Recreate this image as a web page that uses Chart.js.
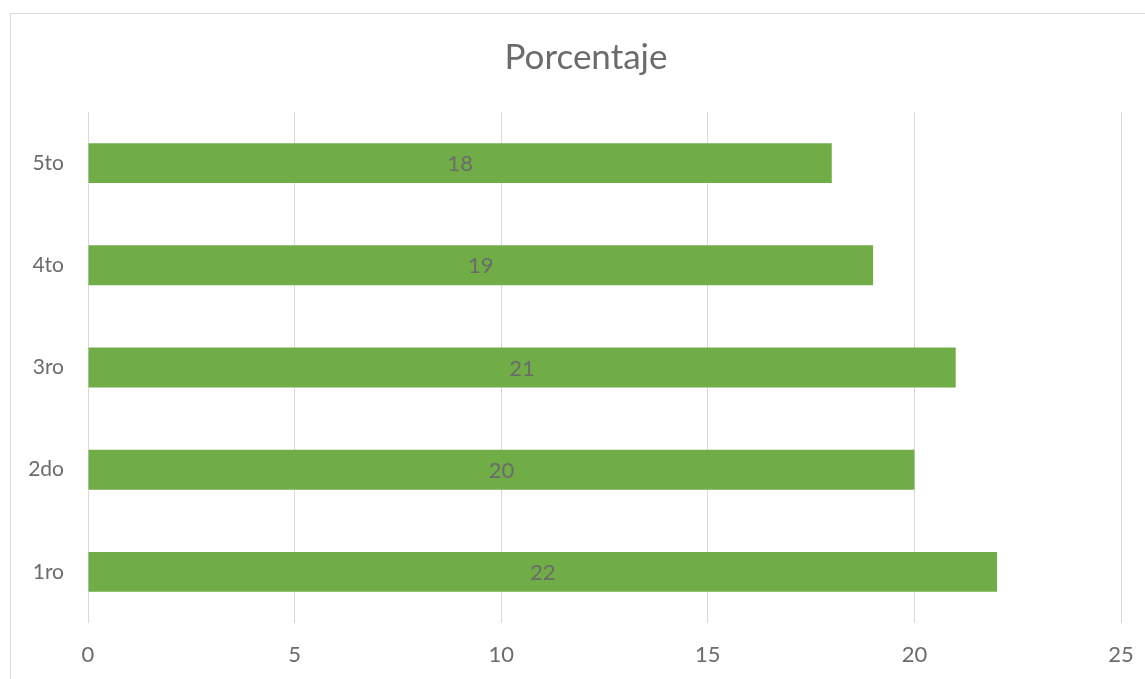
<!DOCTYPE html>
<html>
<head>
<meta charset="utf-8">
<script src="https://cdn.jsdelivr.net/npm/chart.js@4"></script>
<style>
    html, body { margin: 0; padding: 0; background: #fff; overflow: hidden; }
    #frame { position: absolute; left: 10px; top: 13px; width: 1200px; height: 700px; border: 1px solid #d9d9d9; }
    #wrap { position: absolute; left: 0; top: 0; width: 1145px; height: 679px; }
</style>
</head>
<body>
<div id="frame"></div>
<div id="wrap"><canvas id="chart" width="1145" height="679"></canvas></div>
<script>
const chartTitle = 'Porcentaje';
const categories = ['5to', '4to', '3ro', '2do', '1ro'];
const values = [18, 19, 21, 20, 22];
const xTicks = [0, 5, 10, 15, 20, 25];

const textColor = '#6b6b6b';
const fontFamily = 'Lato, "Open Sans", sans-serif';

// title centred on the chart frame (not the plot), plus labels in the middle of each bar
const overlay = {
    id: 'overlay',
    afterDatasetsDraw(chart) {
        const ctx = chart.ctx;
        const meta = chart.getDatasetMeta(0);
        ctx.save();
        ctx.fillStyle = textColor;
        ctx.textAlign = 'center';
        ctx.textBaseline = 'middle';
        ctx.font = '35px ' + fontFamily;
        ctx.fillText(chartTitle, 586, 58);
        ctx.font = '22px ' + fontFamily;
        meta.data.forEach((bar, i) => {
            const mid = (bar.x + bar.base) / 2;
            ctx.fillText(String(values[i]), mid, bar.y + 1);
        });
        ctx.restore();
    }
};

new Chart(document.getElementById('chart'), {
    type: 'bar',
    data: {
        labels: categories,
        datasets: [{
            label: chartTitle,
            data: values,
            backgroundColor: '#70ad47',
            borderWidth: 0,
            categoryPercentage: 1,
            barPercentage: 0.39
        }]
    },
    options: {
        indexAxis: 'y',
        responsive: false,
        animation: false,
        layout: { padding: { left: 0, right: 24, top: 112, bottom: 0 } },
        plugins: {
            legend: { display: false },
            tooltip: { enabled: false },
            title: { display: false }
        },
        scales: {
            x: {
                min: 0,
                max: 25,
                afterBuildTicks(scale) {
                    scale.ticks = xTicks.map(v => ({ value: v }));
                },
                afterFit(scale) {
                    scale.height = 56;
                    scale.paddingRight = 0;
                },
                grid: { color: '#d9d9d9', drawTicks: false },
                border: { display: false },
                ticks: {
                    color: textColor,
                    padding: 19,
                    maxRotation: 0,
                    font: { family: fontFamily, size: 22 }
                }
            },
            y: {
                afterFit(scale) { scale.width = 88; },
                grid: { display: false, drawTicks: false },
                border: { display: false },
                ticks: {
                    color: textColor,
                    padding: 24,
                    font: { family: fontFamily, size: 21 }
                }
            }
        }
    },
    plugins: [overlay]
});
</script>
</body>
</html>
